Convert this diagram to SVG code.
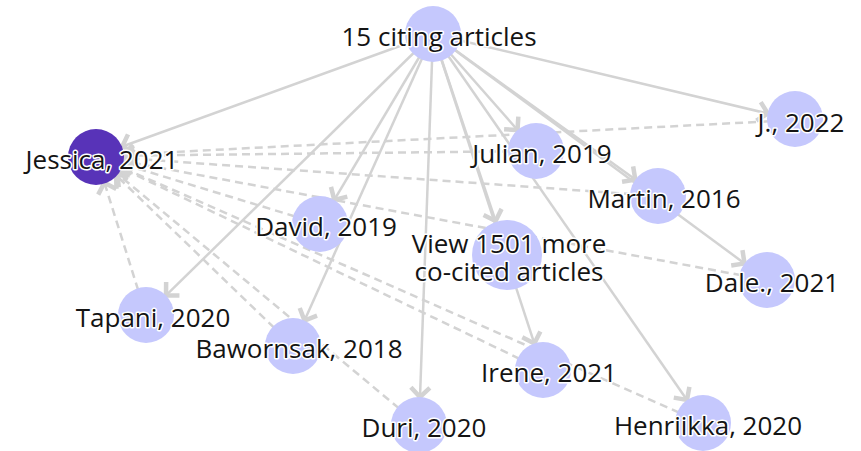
<svg xmlns="http://www.w3.org/2000/svg" width="861" height="451" viewBox="0 0 861 451">
<style>
.bg{fill:#ffffff}
.e{stroke:#d3d3d3;stroke-width:2.5;fill:none;marker-end:url(#arr)}
.d{stroke-dasharray:8 5}
.n{fill:#c5c8fd}
.sel{fill:#5833b8}
.t{font-family:"Open Sans","Noto Sans",sans-serif;font-size:26px;fill:#141414;text-anchor:middle;stroke:#ffffff;stroke-width:3;paint-order:stroke;stroke-linejoin:round}
</style>
<defs>
<marker id="arr" markerUnits="userSpaceOnUse" orient="auto" refX="0" refY="0" markerWidth="30" markerHeight="30" viewBox="-15 -15 30 30" overflow="visible">
<path d="M-9.5,-9.5 L0,0 L-9.5,9.5" fill="none" stroke="#d3d3d3" stroke-width="4.5"/>
</marker>
</defs>
<rect class="bg" x="0" y="0" width="861" height="451"/>
<g id="connectors">
<line class="e" x1="433" y1="34" x2="122.3" y2="146.5"/>
<line class="e" x1="433" y1="34" x2="767.8" y2="113.5"/>
<line class="e" x1="433" y1="34" x2="517.5" y2="130"/>
<line class="e" x1="433" y1="34" x2="635.3" y2="179.6"/>
<line class="e" x1="433" y1="34" x2="334.3" y2="199.9"/>
<line class="e" x1="433" y1="34" x2="495.6" y2="220.9"/>
<line class="e" x1="433" y1="34" x2="166" y2="295.4"/>
<line class="e" x1="433" y1="34" x2="304.5" y2="320.5"/>
<line class="e" x1="433" y1="34" x2="420" y2="397"/>
<line class="e" x1="433" y1="34" x2="534.3" y2="343.4"/>
<line class="e" x1="433" y1="34" x2="687" y2="400"/>
<line class="e" x1="433" y1="34" x2="744.5" y2="263.4"/>
<line class="e d" x1="795" y1="120" x2="124" y2="154.6"/>
<line class="e d" x1="536" y1="151" x2="124" y2="155.7"/>
<line class="e d" x1="658" y1="196" x2="123.9" y2="158"/>
<line class="e d" x1="767" y1="280" x2="123.5" y2="161.1"/>
<line class="e d" x1="320" y1="224" x2="122.8" y2="164.1"/>
<line class="e d" x1="146" y1="315" x2="104.4" y2="182.7"/>
<line class="e d" x1="293" y1="346" x2="116.2" y2="175.4"/>
<line class="e d" x1="419" y1="425" x2="117.5" y2="173.9"/>
<line class="e d" x1="543" y1="370" x2="121.3" y2="168.1"/>
<line class="e d" x1="703" y1="423" x2="121.6" y2="167.3"/>
</g>
<g id="node-citing"><circle class="n" cx="433" cy="34" r="28"/><text class="t" x="439" y="46">15 citing articles</text></g>
<g id="node-jessica"><circle class="sel" cx="96" cy="157" r="28"/><text class="t" x="102" y="169">Jessica, 2021</text></g>
<g id="node-j"><circle class="n" cx="795" cy="119" r="28"/><text class="t" x="801" y="132">J., 2022</text></g>
<g id="node-julian"><circle class="n" cx="536" cy="151" r="28"/><text class="t" x="542" y="163">Julian, 2019</text></g>
<g id="node-martin"><circle class="n" cx="658" cy="196" r="28"/><text class="t" x="664" y="208">Martin, 2016</text></g>
<g id="node-david"><circle class="n" cx="320" cy="224" r="28"/><text class="t" x="326" y="236">David, 2019</text></g>
<g id="node-view"><circle class="n" cx="507" cy="255" r="35"/><text class="t" x="509" y="253">View 1501 more</text><text class="t" x="509" y="281">co-cited articles</text></g>
<g id="node-dale"><circle class="n" cx="767" cy="280" r="28"/><text class="t" x="772" y="292">Dale., 2021</text></g>
<g id="node-tapani"><circle class="n" cx="146" cy="315" r="28"/><text class="t" x="153" y="327">Tapani, 2020</text></g>
<g id="node-bawornsak"><circle class="n" cx="293" cy="346" r="28"/><text class="t" x="299" y="358">Bawornsak, 2018</text></g>
<g id="node-duri"><circle class="n" cx="419" cy="425" r="28"/><text class="t" x="424" y="437">Duri, 2020</text></g>
<g id="node-irene"><circle class="n" cx="543" cy="370" r="28"/><text class="t" x="549" y="382">Irene, 2021</text></g>
<g id="node-henriikka"><circle class="n" cx="703" cy="423" r="28"/><text class="t" x="708" y="435">Henriikka, 2020</text></g>
</svg>
